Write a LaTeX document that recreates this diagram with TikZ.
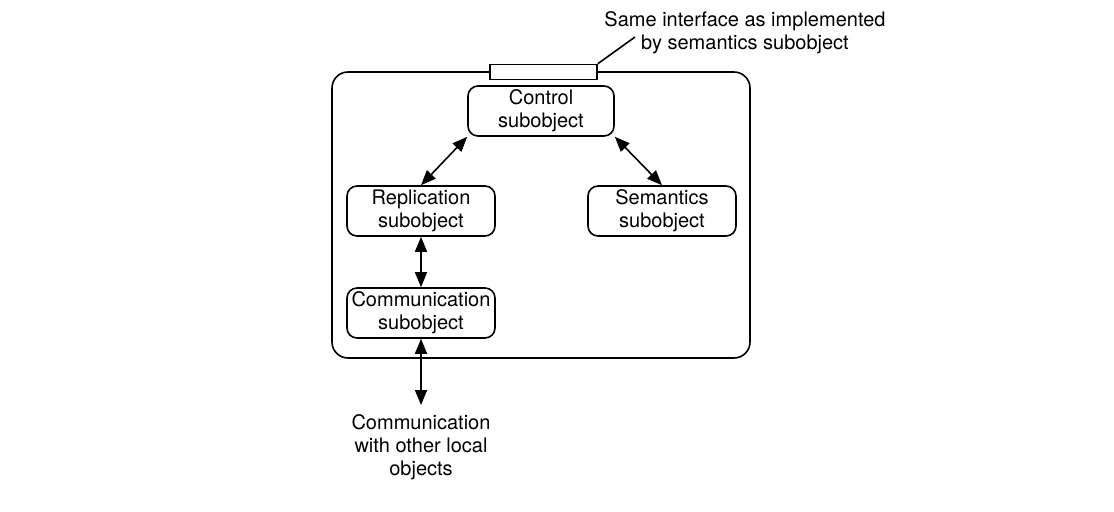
\documentclass[tikz,border=0pt]{standalone}
\usepackage{fontspec}
\setmainfont{TeX Gyre Heros}
\usepackage{tikz}
\usetikzlibrary{arrows.meta, positioning}

\begin{document}
\begin{tikzpicture}[
  x=0.5pt, y=-0.5pt,
  sub/.style={rectangle, rounded corners=5pt, draw, line width=0.8pt, minimum width=74pt, minimum height=25pt, inner sep=0pt, align=center, font=\fontsize{10}{11.5}\selectfont},
  lbl/.style={align=center, font=\fontsize{10}{11.5}\selectfont},
  <->, >={Triangle[length=7.5pt, width=6pt]}, line width=0.8pt
]
  \useasboundingbox (0,0) rectangle (1114,511);

  % the object and its interface
  \node[draw, rounded corners=8pt, minimum width=209pt, minimum height=143pt, inner sep=0pt] (obj) at (541,215) {};
  \node[draw, fill=white, minimum width=53.5pt, minimum height=7.5pt, inner sep=0pt] (iface) at (543.5,72) {};
  \node[lbl] (note) at (745,33) {Same interface as implemented\\by semantics subobject};
  \coordinate (tip) at (635,37);
  \draw[-] (iface.north east) -- (tip);

  % subobjects
  \node[sub, minimum width=73pt] (ctrl) at (541,111) {Control\\subobject};
  \node[sub] (repl) at (421,211) {Replication\\subobject};
  \node[sub] (sem) at (662,211) {Semantics\\subobject};
  \node[sub] (comm) at (421,313) {Communication\\subobject};

  \draw (ctrl.south west) -- (repl.north);
  \draw (ctrl.south east) -- (sem.north);
  \draw (repl.south) -- (comm.north);

  % to the outside
  \coordinate (out) at (421,405);
  \draw (comm.south) -- (out);
  \node[lbl, below=1pt of out] (ext) {Communication\\with other local\\objects};
\end{tikzpicture}
\end{document}
